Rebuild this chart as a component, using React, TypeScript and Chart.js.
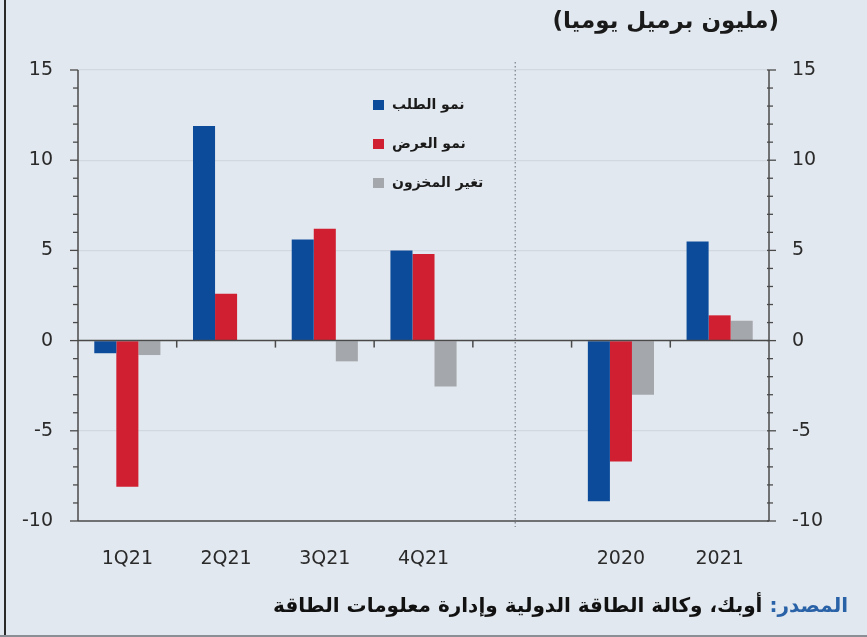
import React, { useEffect, useRef } from 'react';
import { Chart, registerables } from 'chart.js';
Chart.register(...registerables);

const categories = ['1Q21', '2Q21', '3Q21', '4Q21', '', '2020', '2021'];
const demandGrowth = [-0.7, 11.9, 5.6, 5.0, null, -8.9, 5.5];
const supplyGrowth = [-8.1, 2.6, 6.2, 4.8, null, -6.7, 1.4];
const inventoryChange = [-0.8, 0, -1.15, -2.55, null, -3.0, 1.1];
const seriesNames = ['نمو الطلب', 'نمو العرض', 'تغير المخزون'];
const seriesColors = ['#0c4b9a', '#d01f30', '#a4a7ab'];
const yMin = -10;
const yMax = 15;
const yStep = 5;
const titleText = '(مليون برميل يوميا)';
const sourceLabel = 'المصدر:';
const sourceText = ' أوبك، وكالة الطاقة الدولية وإدارة معلومات الطاقة';

const BG = '#e2e8ef';
const AXIS = '#4a4a4a';
const FONT = 'DejaVu Sans';

const axesPlugin = {
  id: 'customAxes',
  afterDatasetsDraw(chart: any) {
    const { ctx, chartArea } = chart;
    const { left, right, top, bottom } = chartArea;
    const y = chart.scales.y;
    const x = chart.scales.x;
    ctx.save();
    ctx.strokeStyle = AXIS;
    ctx.lineWidth = 1.5;
    ctx.beginPath();
    ctx.moveTo(left, top);
    ctx.lineTo(left, bottom);
    ctx.stroke();
    ctx.beginPath();
    ctx.moveTo(right, top);
    ctx.lineTo(right, bottom);
    ctx.stroke();
    ctx.beginPath();
    ctx.moveTo(left, bottom);
    ctx.lineTo(right, bottom);
    ctx.stroke();
    ctx.lineWidth = 1.3;
    for (let v = yMin; v <= yMax; v++) {
      const py = y.getPixelForValue(v);
      const major = v % yStep === 0;
      ctx.beginPath();
      ctx.moveTo(left - (major ? 8 : 5), py);
      ctx.lineTo(left, py);
      ctx.stroke();
      ctx.beginPath();
      ctx.moveTo(right - 2, py);
      ctx.lineTo(right + (major ? 7 : 4), py);
      ctx.stroke();
    }
    const y0 = y.getPixelForValue(0);
    ctx.lineWidth = 1.5;
    ctx.beginPath();
    ctx.moveTo(left, y0);
    ctx.lineTo(right, y0);
    ctx.stroke();
    const n = categories.length;
    const cw = (right - left) / n;
    for (let i = 1; i < n; i++) {
      const px = left + i * cw;
      ctx.beginPath();
      ctx.moveTo(px, y0);
      ctx.lineTo(px, y0 + 7);
      ctx.stroke();
    }
    const sx = x.getPixelForValue(4) - 7;
    ctx.strokeStyle = '#7a7f86';
    ctx.lineWidth = 1.2;
    ctx.setLineDash([1.5, 2.5]);
    ctx.beginPath();
    ctx.moveTo(sx, top - 8);
    ctx.lineTo(sx, bottom + 6);
    ctx.stroke();
    ctx.setLineDash([]);
    const lx = left + 295;
    const ly = [top + 35, top + 74, top + 113];
    ctx.font = `bold 14px ${FONT}`;
    ctx.textBaseline = 'middle';
    ctx.textAlign = 'left';
    seriesNames.forEach((name, i) => {
      ctx.fillStyle = seriesColors[i];
      ctx.fillRect(lx, ly[i] - 5, 11, 10);
      ctx.fillStyle = '#1a1a1a';
      ctx.fillText(name, lx + 19, ly[i]);
    });
    ctx.restore();
  },
};

export default function App() {
  const ref = useRef<HTMLCanvasElement>(null);
  useEffect(() => {
    document.body.style.margin = '0';
    const canvas = ref.current!;
    const tickFont = { family: FONT, size: 19 };
    const chart = new Chart(canvas, {
      type: 'bar',
      data: {
        labels: categories,
        datasets: [
          { label: seriesNames[0], data: demandGrowth, backgroundColor: seriesColors[0] },
          { label: seriesNames[1], data: supplyGrowth, backgroundColor: seriesColors[1] },
          { label: seriesNames[2], data: inventoryChange, backgroundColor: seriesColors[2] },
        ],
      },
      options: {
        responsive: false,
        animation: false,
        datasets: { bar: { barPercentage: 1, categoryPercentage: 0.67 } },
        layout: { padding: { top: 70, left: 0, right: 0, bottom: 0 } },
        plugins: { legend: { display: false }, tooltip: { enabled: false } },
        scales: {
          x: {
            grid: { display: false, drawTicks: false },
            border: { display: false },
            ticks: { padding: 27, font: tickFont, color: '#2a2a2a', autoSkip: false, maxRotation: 0 },
            afterFit: (s: any) => { s.height = 116; },
          },
          y: {
            position: 'left',
            min: yMin,
            max: yMax,
            ticks: { stepSize: yStep, padding: 25, font: tickFont, color: '#2a2a2a' },
            grid: {
              drawTicks: false,
              color: (c: any) => (c.tick && (c.tick.value === 0 || c.tick.value === yMin) ? 'rgba(0,0,0,0)' : '#d2d8df'),
              lineWidth: 1.2,
            },
            border: { display: false },
            afterFit: (s: any) => { s.width = 78; },
          },
          y2: {
            position: 'right',
            min: yMin,
            max: yMax,
            ticks: { stepSize: yStep, padding: 23, font: tickFont, color: '#2a2a2a' },
            grid: { display: false, drawTicks: false },
            border: { display: false },
            afterFit: (s: any) => { s.width = 98; },
          },
        },
      } as any,
      plugins: [axesPlugin],
    });
    return () => chart.destroy();
  }, []);

  return (
    <div style={{ position: 'relative', width: 867, height: 637, background: BG, overflow: 'hidden' }}>
      <canvas ref={ref} width={867} height={637} style={{ position: 'absolute', left: 0, top: 0 }} />
      <div
        dir="rtl"
        style={{
          position: 'absolute', right: 88, top: 2, fontFamily: FONT, fontSize: 23, fontWeight: 'bold',
          color: '#1a1a1a', whiteSpace: 'nowrap', lineHeight: '36px',
        }}
      >
        {titleText}
      </div>
      <div
        dir="rtl"
        style={{
          position: 'absolute', right: 19, top: 587, fontFamily: FONT, fontSize: 20, fontWeight: 'bold',
          color: '#111', whiteSpace: 'nowrap', lineHeight: '36px',
        }}
      >
        <span style={{ color: '#2a62a8' }}>{sourceLabel}</span>
        <span>{sourceText}</span>
      </div>
      <div style={{ position: 'absolute', left: 4, top: 0, width: 2, height: 637, background: '#2a2a2a' }} />
      <div style={{ position: 'absolute', left: 0, top: 635, width: 867, height: 2, background: '#8a8f96' }} />
    </div>
  );
}
